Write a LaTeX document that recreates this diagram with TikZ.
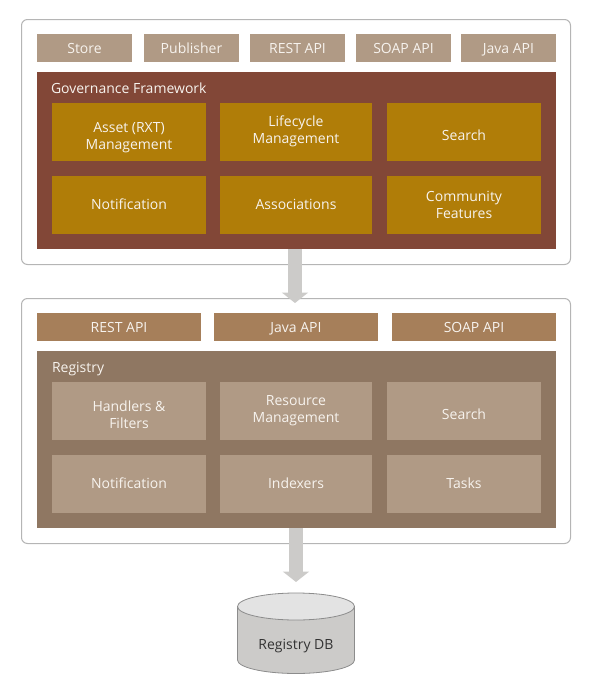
\documentclass[tikz,border=0pt]{standalone}
\usepackage{fontspec}
\setmainfont{Open Sans}
\usetikzlibrary{arrows.meta}
\definecolor{tan}{HTML}{B09A85}
\definecolor{govbg}{HTML}{824737}
\definecolor{gold}{HTML}{B07D08}
\definecolor{apibg}{HTML}{A67F5A}
\definecolor{regbg}{HTML}{8F7762}
\definecolor{dbside}{HTML}{CCCBC9}
\definecolor{dbtop}{HTML}{E3E3E3}
\definecolor{dbline}{HTML}{8C8C8C}
\definecolor{dbtext}{HTML}{333333}
\definecolor{frameline}{HTML}{B5B5B5}
\definecolor{lighttext}{HTML}{F7F3EE}
% text block whose centre sits #1 pt below the centre of its node
\newcommand\capt[2]{\raisebox{\dimexpr -5.5pt-#1pt\relax}[0pt][0pt]{\begin{tabular}[c]{@{}c@{}}#2\end{tabular}}}
\tikzset{
  x=1pt,y=-1pt,
  boxbase/.style={anchor=north west,inner sep=0pt,outer sep=0pt,text=lighttext,
    font=\fontsize{14}{17}\selectfont},
  frame/.style={draw=frameline,line width=1pt,fill=white,rounded corners=6pt,anchor=north west,inner sep=0pt,outer sep=0pt,minimum width=549pt,minimum height=245pt},
  toptab/.style={boxbase,fill=tan,minimum width=95pt,minimum height=28pt},
  apitab/.style={boxbase,fill=apibg,minimum width=164pt,minimum height=28pt},
  panel/.style={anchor=north west,inner sep=0pt,outer sep=0pt,minimum width=519pt,minimum height=177pt},
  govcell/.style={boxbase,fill=gold,minimum height=58pt},
  regcell/.style={boxbase,fill=tan,minimum height=58pt},
  paneltitle/.style={boxbase,anchor=west},
  flow/.style={draw=dbside,line width=14pt,-{Triangle[width=26pt,length=10.5pt,fill=dbside]}},
  dbshape/.style={draw=dbline,line width=0.8pt},
}
\begin{document}
\begin{tikzpicture}
\useasboundingbox (0,0) rectangle (592,688);
\node[frame] (upper) at (21.5,19.5) {};
\node[frame] (lower) at (21.5,298.5) {};
% upper tabs
\node[toptab] (store) at (37,34) {\capt{0}{Store}};
\node[toptab] (publisher) at (144,34) {\capt{0}{Publisher}};
\node[toptab] (rest1) at (250,34) {\capt{0}{REST API}};
\node[toptab] (soap1) at (356,34) {\capt{0}{SOAP API}};
\node[toptab] (java1) at (461,34) {\capt{0}{Java API}};
% governance
\node[panel,fill=govbg] (gov) at (37,72) {};
\node[paneltitle] (govtitle) at (51,88) {\capt{0}{Governance Framework}};
\node[govcell,minimum width=154pt] (asset) at (52,103) {\capt{3.5}{Asset (RXT)\\Management}};
\node[govcell,minimum width=152pt] (life) at (220,103) {\capt{-2.5}{Lifecycle\\Management}};
\node[govcell,minimum width=154pt] (search1) at (387,103) {\capt{3}{Search}};
\node[govcell,minimum width=154pt] (notif1) at (52,176) {\capt{-1}{Notification}};
\node[govcell,minimum width=152pt] (assoc) at (220,176) {\capt{-1}{Associations}};
\node[govcell,minimum width=154pt] (comm) at (387,176) {\capt{-0.5}{Community\\Features}};
% lower tabs
\node[apitab] (rest2) at (37,313) {\capt{0}{REST API}};
\node[apitab] (java2) at (214,313) {\capt{0}{Java API}};
\node[apitab] (soap2) at (392,313) {\capt{0}{SOAP API}};
% registry
\node[panel,fill=regbg] (reg) at (37,351) {};
\node[paneltitle] (regtitle) at (52,367) {\capt{0}{Registry}};
\node[regcell,minimum width=154pt] (handlers) at (52,382) {\capt{3.5}{Handlers \&\\Filters}};
\node[regcell,minimum width=152pt] (resource) at (220,382) {\capt{-2.5}{Resource\\Management}};
\node[regcell,minimum width=154pt] (search2) at (387,382) {\capt{3}{Search}};
\node[regcell,minimum width=154pt] (notif2) at (52,455) {\capt{-1}{Notification}};
\node[regcell,minimum width=152pt] (index) at (220,455) {\capt{-1}{Indexers}};
\node[regcell,minimum width=154pt] (tasks) at (387,455) {\capt{-1}{Tasks}};
% database
\draw[dbshape,fill=dbside] (237.5,606.5) -- (237.5,660)
  arc[start angle=180,end angle=360,x radius=58.5pt,y radius=13.5pt] -- (354.5,606.5) -- cycle;
\draw[dbshape,fill=dbtop] (296,606.5) ellipse [x radius=58.5pt,y radius=13.5pt];
\node[inner sep=0pt,font=\fontsize{14}{17}\selectfont,text=dbtext] (db) at (296,644) {\capt{0}{Registry DB}};
% flows
\coordinate (tip1) at (295,303);
\coordinate (tip2) at (296,582);
\draw[flow] (tip1 |- gov.south) -- (tip1);
\draw[flow] (tip2 |- reg.south) -- (tip2);
\end{tikzpicture}
\end{document}
